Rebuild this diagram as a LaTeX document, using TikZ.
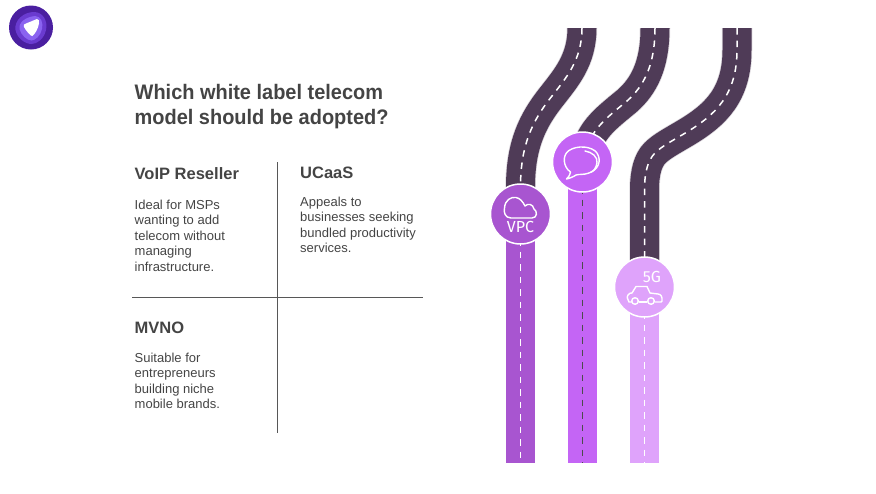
\documentclass[tikz,border=0pt]{standalone}
\usepackage{fontspec}
\setmainfont{Liberation Sans}
\newfontfamily\narrowb[FakeStretch=0.95]{Liberation Sans Bold}
\newfontfamily\iconf{Fira Sans}
\usetikzlibrary{calc}
\definecolor{roadd}{HTML}{4F3B57}
\definecolor{pa}{HTML}{A855D0}
\definecolor{pb}{HTML}{C465F5}
\definecolor{pc}{HTML}{DFA3FB}
\definecolor{txt}{HTML}{444444}
\definecolor{lg1}{HTML}{4A1FA0}
\definecolor{lg2}{HTML}{6A3BD0}
\definecolor{lg3}{HTML}{8A63F0}
\tikzset{
  x=1pt,y=-1pt,
  ttl/.style={font=\fontsize{21}{25}\narrowb,text=txt,anchor=north west,inner sep=0pt,align=left},
  hd/.style={font=\fontsize{16.5}{20}\selectfont\bfseries,text=txt,anchor=north west,inner sep=0pt},
  bd/.style={font=\fontsize{13}{15.6}\selectfont,text=txt,anchor=north west,inner sep=0pt,align=left},
  rule/.style={draw=txt!90,line width=1.5pt},
  edge/.style={line width=30.5pt,draw=white!80!roadd},
  road/.style={line width=29pt,draw=#1},
  cdash/.style={line width=1.5pt,draw=white,dash pattern=on 6.5pt off 6pt},
  ddash/.style={line width=1.5pt,draw=black!70,dash pattern=on 6.5pt off 6pt},
  disc/.style={circle,minimum size=60pt,inner sep=0pt,draw=white,line width=1.5pt,fill=#1},
  ico/.style={draw=white,line width=1.4pt,line join=round,line cap=round},
  icot/.style={text=white,inner sep=0pt,font=\fontsize{#1}{#1}\iconf},
}
\begin{document}
\begin{tikzpicture}
\useasboundingbox (0,0) rectangle (876,493);
% logo
\fill[lg1] (31,27.5) circle (22);
\fill[lg2] (34,12) .. controls (43,12) and (48,21) .. (46,30) .. controls (44,39) and (37,44) .. (31.5,44) .. controls (25,44) and (17,38) .. (15.5,30) .. controls (14,20) and (24,12) .. (34,12) -- cycle;
\fill[lg3] (35,16) .. controls (41,16) and (43.5,23) .. (42,29) .. controls (40.5,36) and (35,40.5) .. (31.5,40.5) .. controls (27,40.5) and (21,35) .. (19.5,29) .. controls (18.5,22) and (26,17) .. (35,16) -- cycle;
\fill[white] (37,19) .. controls (39,19) and (39.5,21) .. (39,23.5) .. controls (38,29) and (35,34) .. (32.5,36) .. controls (31,37) and (25.5,30) .. (24,27) .. controls (23,25) and (24,24) .. (26,23.5) -- cycle;
% text
\node[ttl] (title) at (134.5,84) {Which white label telecom\\model should be adopted?};
\node[hd] (h1) at (134.5,167) {VoIP Reseller};
\node[bd] (b1) at (134.5,199.5) {Ideal for MSPs\\wanting to add\\telecom without\\managing\\infrastructure.};
\node[hd] (h2) at (300,167) {UCaaS};
\node[bd] (b2) at (300,196.5) {Appeals to\\businesses seeking\\bundled productivity\\services.};
\node[hd] (h3) at (134.5,321.5) {MVNO};
\node[bd] (b3) at (134.5,352.5) {Suitable for\\entrepreneurs\\building niche\\mobile brands.};
% rules
\coordinate (vt) at (277.5,162); \coordinate (vb) at (277.5,433);
\coordinate (hl) at (132,297.5); \coordinate (hr) at (423,297.5);
\draw[rule] (vt) -- (vb);
\draw[rule] (hl) -- (hr);
% road paths
\coordinate (r1t) at (582,28); \coordinate (r1c) at (520.5,214); \coordinate (r1b) at (520.5,463);
\coordinate (r2t) at (655,28); \coordinate (r2c) at (582.5,162); \coordinate (r2b) at (582.5,463);
\coordinate (r3t) at (737,28); \coordinate (r3c) at (644.5,287); \coordinate (r3b) at (644.5,463);
\def\rone{(r1t) .. controls (582,60) and (566,78) .. (552,96) .. controls (532,121) and (521,145) .. (520.5,185) -- (r1c)}
\def\rtwo{(r2t) .. controls (655,65) and (644,86) .. (627,101) .. controls (610,115) and (597,125) .. (590,140) -- (r2c)}
\def\rthr{(r3t) -- (737,50) .. controls (737,95) and (715,115) .. (687,132) .. controls (672,141) and (662,146) .. (655,153) .. controls (648,160) and (644.5,172) .. (644.5,190) -- (r3c)}
\begin{scope}
\clip (0,28) rectangle (876,493);
\draw[edge] \rone; \draw[edge] \rtwo; \draw[edge] \rthr;
\draw[road=roadd] \rone; \draw[road=roadd] \rtwo; \draw[road=roadd] \rthr;
\draw[cdash] \rone; \draw[cdash] \rtwo; \draw[cdash] \rthr;
\end{scope}
\draw[road=pa] (r1c) -- (r1b);
\draw[road=pb] (r2c) -- (r2b);
\draw[road=pc] (r3c) -- (r3b);
\draw[cdash] (r1c) -- (r1b);
\draw[ddash] (r2c) -- (r2b);
\draw[cdash] (r3c) -- (r3b);
% discs
\node[disc=pa] (c1) at (r1c) {};
\node[disc=pb] (c2) at (r2c) {};
\node[disc=pc] (c3) at (r3c) {};
% cloud icon
\draw[ico] (511,218) .. controls (505,218) and (503.5,212) .. (504.5,208) .. controls (505,200) and (511,196.5) .. (516,197.5) .. controls (520,198) and (523,202) .. (525,206) .. controls (528,203) and (533,204) .. (534,209) .. controls (537.5,211) and (537.5,218) .. (532,218) -- cycle;
\node[icot=16] (vpc) at (520.5,226.5) {VPC};
% chat icon
\draw[ico] (566.5,179) .. controls (569,176.5) and (570.5,174) .. (570.5,172) .. controls (563,167) and (562,155) .. (569,150.5) .. controls (577,145) and (592,146) .. (597,153) .. controls (602,161) and (598,170) .. (589,173) .. controls (584,175) and (579,174) .. (576,175) .. controls (573,177) and (569,178.5) .. (566.5,179) -- cycle;
\draw[ico] (585,151) .. controls (592,152) and (598,157) .. (597,163) .. controls (596,168) and (594,171) .. (591,172);
% car icon
\node[icot=16] (fiveg) at (652,277) {5G};
\draw[ico] (632,302) -- (629,302) .. controls (627,300) and (627,296) .. (628,295) .. controls (629,293) and (631,293) .. (632,293) -- (636,286.5) -- (647,286.5) -- (650,293) -- (658,294) .. controls (661,294) and (662.5,297) .. (662,301) -- (661,302) -- (655,302);
\draw[ico] (639,302) -- (647,302);
\draw[ico] (635,301) circle (3.3);
\draw[ico] (651,301) circle (3.3);
\end{tikzpicture}
\end{document}
